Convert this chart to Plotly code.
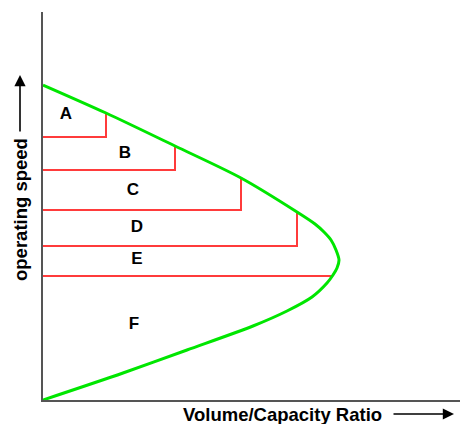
import plotly.graph_objects as go

# Speed / volume-capacity curve (units, origin at axes corner)
curve_vc = [0, 63, 132, 198, 254, 272, 281, 288, 293, 296, 294, 290, 284, 269,
            244, 210, 144, 80, 0]
curve_speed = [315, 287, 254, 222, 188, 176, 168, 160, 150, 140, 132, 125, 117, 103,
               89, 74, 50, 27, 0]

# Level-of-service steps: horizontal level, right edge, top of the vertical riser
los_names = ["A", "B", "C", "D", "E", "F"]
step_speed = [263, 230, 190, 154, 124]
step_vc = [63, 132, 198, 254, 290]
step_top = [287, 254, 222, 188, 124]

# Label positions for each region
label_vc = [23, 82, 90, 94, 94, 91]
label_speed = [285, 246, 209, 172, 140, 75]

X_MAX, Y_MAX = 417, 388
FONT = "Liberation Sans, Arial, sans-serif"

fig = go.Figure()

for s, v, t in zip(step_speed, step_vc, step_top):
    fig.add_trace(go.Scatter(
        x=[0, v, v], y=[s, s, t], mode="lines",
        line=dict(color="#ff3b3b", width=2), hoverinfo="skip"))

fig.add_trace(go.Scatter(
    x=curve_vc, y=curve_speed, mode="lines",
    line=dict(color="#00e600", width=3, shape="spline", smoothing=0.8),
    hoverinfo="skip"))

fig.add_trace(go.Scatter(
    x=label_vc, y=label_speed, mode="text",
    text=[f"<b>{n}</b>" for n in los_names],
    textfont=dict(family=FONT, size=17, color="black"),
    hoverinfo="skip"))

def px_to_paper_x(px):
    return (px - 43) / 417

def px_to_paper_y(py):
    return (400 - py) / 388

annotations = [
    dict(text="<b>operating speed</b>", xref="paper", yref="paper",
         x=px_to_paper_x(20), y=px_to_paper_y(210), textangle=-90,
         showarrow=False, font=dict(family=FONT, size=18.5, color="black"),
         xanchor="center", yanchor="middle"),
    dict(text="", xref="paper", yref="paper",
         x=px_to_paper_x(20), y=px_to_paper_y(75), ax=0, ay=58,
         showarrow=True, arrowhead=2, arrowsize=1.4, arrowwidth=1.6,
         arrowcolor="black"),
    dict(text="<b>Volume/Capacity Ratio</b>", xref="paper", yref="paper",
         x=px_to_paper_x(282), y=px_to_paper_y(414),
         showarrow=False, font=dict(family=FONT, size=18.5, color="black"),
         xanchor="center", yanchor="middle"),
    dict(text="", xref="paper", yref="paper",
         x=px_to_paper_x(454), y=px_to_paper_y(414), ax=-62, ay=0,
         showarrow=True, arrowhead=2, arrowsize=1.4, arrowwidth=1.6,
         arrowcolor="black"),
]

fig.update_layout(
    width=460, height=424,
    margin=dict(l=43, r=0, t=12, b=24),
    paper_bgcolor="white", plot_bgcolor="white",
    showlegend=False,
    annotations=annotations,
    xaxis=dict(range=[0, X_MAX], showgrid=False, zeroline=False,
               showticklabels=False, ticks="", showline=True,
               linecolor="#555555", linewidth=2, fixedrange=True),
    yaxis=dict(range=[0, Y_MAX], showgrid=False, zeroline=False,
               showticklabels=False, ticks="", showline=True,
               linecolor="#555555", linewidth=2, fixedrange=True),
)

fig.write_html("out.html", config={"displayModeBar": False})

# remove the default page margin so the figure sits at the window's corner
with open("out.html", "r", encoding="utf-8") as f:
    html = f.read()
html = html.replace("<head>", "<head><style>html,body{margin:0;padding:0;overflow:hidden;}</style>", 1)
with open("out.html", "w", encoding="utf-8") as f:
    f.write(html)
